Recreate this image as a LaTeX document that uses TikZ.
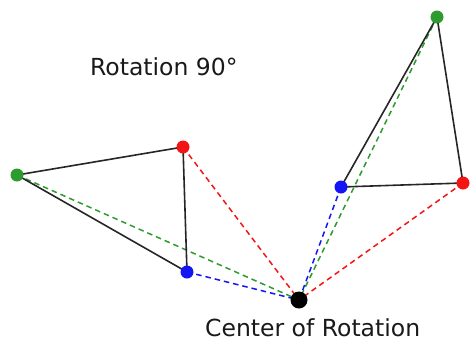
\documentclass[tikz,border=0pt]{standalone}
\usepackage{fontspec}
\setmainfont{DejaVu Sans}
\definecolor{dgreen}{RGB}{45,155,45}
\definecolor{dred}{RGB}{245,20,20}
\definecolor{dblue}{RGB}{20,20,245}
\tikzset{
  edge/.style={draw=black!85, line width=1.6pt},
  ray/.style={line width=1.5pt, dash pattern=on 5.5pt off 4pt},
  dotpt/.style={circle, fill=#1, inner sep=0pt, minimum size=13pt},
  lbl/.style={font=\fontsize{23.5}{26}\selectfont, text=black!90, anchor=base west, inner sep=0pt, text depth=0pt}
}
\begin{document}
\begin{tikzpicture}[x=1pt,y=-1pt]
\useasboundingbox (0,0) rectangle (472,341);
% vertices
\coordinate (GL) at (17,175);
\coordinate (RL) at (183,147);
\coordinate (BL) at (187,272);
\coordinate (C) at (299,300);
\coordinate (BR) at (341,187);
\coordinate (RR) at (463,183);
\coordinate (GR) at (437,17);
% rays
\draw[ray, dgreen] (GL) -- (C);
\draw[ray, dred] (RL) -- (C);
\draw[ray, dblue] (BL) -- (C);
\draw[ray, dgreen] (GR) -- (C);
\draw[ray, dred] (RR) -- (C);
\draw[ray, dblue] (BR) -- (C);
% triangles
\draw[edge] (GL) -- (RL) -- (BL) -- cycle;
\draw[edge] (GR) -- (RR) -- (BR) -- cycle;
% dots
\node[dotpt=dgreen] (gl) at (GL) {};
\node[dotpt=dred] (rl) at (RL) {};
\node[dotpt=dblue] (bl) at (BL) {};
\node[dotpt=dgreen] (gr) at (GR) {};
\node[dotpt=dred] (rr) at (RR) {};
\node[dotpt=dblue] (br) at (BR) {};
\node[circle, fill=black, inner sep=0pt, minimum size=17pt] (c) at (C) {};
% labels
\node[lbl] (t1) at (90,75) {Rotation 90°};
\node[lbl] (t2) at (205,336) {Center of Rotation};
\end{tikzpicture}
\end{document}
